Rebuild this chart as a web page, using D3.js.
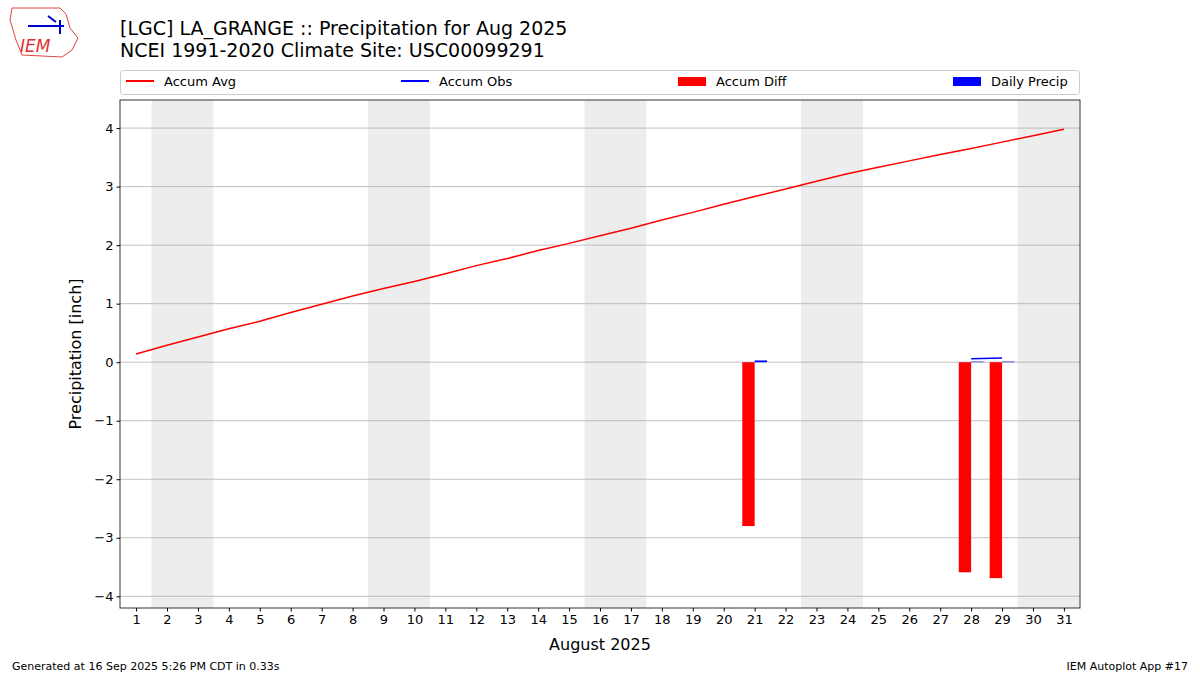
<!DOCTYPE html><html><head><meta charset="utf-8"><script src="https://cdn.jsdelivr.net/npm/d3@7"></script>
<style>body{margin:0;background:#fff}text{font-family:"DejaVu Sans",sans-serif}</style></head><body><svg id="c" width="1200" height="675"></svg><script>
const days=d3.range(1,32);
const accumAvg=[0.14,0.29,0.43,0.57,0.70,0.85,0.99,1.13,1.26,1.38,1.51,1.65,1.77,1.91,2.03,2.16,2.29,2.43,2.56,2.70,2.83,2.96,3.09,3.22,3.33,3.44,3.55,3.65,3.76,3.87,3.98];
const obsDays=[28,29], accumObs=[0.06,0.07];
const diffDays=[21,28,29], accumDiff=[-2.80,-3.59,-3.69];
const precipDays=[21,28,29], dailyPrecip=[0.03,0.01,0.01];
const weekendStarts=[2,9,16,23,30];
const yTicks=[-4,-3,-2,-1,0,1,2,3,4];
const svg=d3.select("#c");
const L=120,R=1080,T=100,B=608;
const x=d3.scaleLinear().domain([0.48,31.52]).range([L,R]);
const y=d3.scaleLinear().domain([-4.2,4.48]).range([B,T]);
const g=svg.append("g");
g.selectAll(".we").data(weekendStarts).join("rect").attr("x",d=>x(d-0.5)).attr("width",d=>x(Math.min(d+1.5,31.52))-x(d-0.5)).attr("y",T).attr("height",B-T).attr("fill","#ededed");
g.selectAll(".gl").data(yTicks).join("line").attr("x1",L).attr("x2",R).attr("y1",d=>y(d)).attr("y2",d=>y(d)).attr("stroke","#b0b0b0").attr("stroke-width",0.8);
g.selectAll(".db").data(diffDays).join("rect").attr("x",d=>x(d-0.4)).attr("width",d=>x(d)-x(d-0.4)).attr("y",y(0)).attr("height",(d,i)=>y(accumDiff[i])-y(0)).attr("fill","#ff0000");
g.selectAll(".pb").data(precipDays).join("rect").attr("x",d=>x(d)).attr("width",d=>x(d+0.4)-x(d)).attr("y",(d,i)=>y(dailyPrecip[i])).attr("height",(d,i)=>y(0)-y(dailyPrecip[i])).attr("fill","#0000ff");
g.append("path").datum(days).attr("d",d3.line().x(d=>x(d)).y((d,i)=>y(accumAvg[i]))).attr("fill","none").attr("stroke","red").attr("stroke-width",1.5);
g.append("path").datum(obsDays).attr("d",d3.line().x(d=>x(d)).y((d,i)=>y(accumObs[i]))).attr("fill","none").attr("stroke","blue").attr("stroke-width",1.5);
svg.append("rect").attr("x",L).attr("y",T).attr("width",R-L).attr("height",B-T).attr("fill","none").attr("stroke","#000").attr("stroke-width",0.8);
const xa=svg.append("g").attr("transform",`translate(0,${B})`).call(d3.axisBottom(x).tickValues(days).tickSize(3.5).tickSizeOuter(0));
const ya=svg.append("g").attr("transform",`translate(${L},0)`).call(d3.axisLeft(y).tickValues(yTicks).tickSize(3.5).tickSizeOuter(0).tickFormat(d=>d<0?"\u2212"+(-d):d));
[xa,ya].forEach(a=>{a.select(".domain").remove();a.selectAll("text").attr("font-size",13).attr("fill","#000").attr("font-family","DejaVu Sans");});
svg.append("text").attr("x",600).attr("y",650).attr("text-anchor","middle").attr("font-size",16).text("August 2025");
svg.append("text").attr("transform",`translate(81,354) rotate(-90)`).attr("text-anchor","middle").attr("font-size",16).text("Precipitation [inch]");
svg.append("text").attr("x",120).attr("y",35).attr("font-size",19).text("[LGC] LA_GRANGE :: Precipitation for Aug 2025");
svg.append("text").attr("x",120).attr("y",57).attr("font-size",19).text("NCEI 1991-2020 Climate Site: USC00099291");
svg.append("rect").attr("x",120.5).attr("y",70.5).attr("width",959).attr("height",24).attr("rx",3).attr("fill","#fff").attr("stroke","#ccc");
const leg=[["Accum Avg","red","line",126],["Accum Obs","blue","line",401],["Accum Diff","red","rect",678],["Daily Precip","blue","rect",953]];
leg.forEach(([t,c,k,lx])=>{if(k=="line")svg.append("line").attr("x1",lx).attr("x2",lx+28).attr("y1",81).attr("y2",81).attr("stroke",c).attr("stroke-width",2);else svg.append("rect").attr("x",lx).attr("y",77).attr("width",28).attr("height",9).attr("fill",c);svg.append("text").attr("x",lx+38).attr("y",86).attr("font-size",13).text(t);});
svg.append("text").attr("x",12).attr("y",670).attr("font-size",11).text("Generated at 16 Sep 2025 5:26 PM CDT in 0.33s");
svg.append("text").attr("x",1188).attr("y",670).attr("text-anchor","end").attr("font-size",11).text("IEM Autoplot App #17");
const lg=svg.append("g");
lg.append("path").attr("d","M12,8 L60,8 L66,14 L70,28 L78,38 L72,50 L62,57 L22,55 L16,40 L10,20 Z").attr("fill","#fff").attr("stroke","#d44").attr("stroke-width",1);
lg.append("text").attr("x",20).attr("y",52).attr("font-size",17).attr("font-style","italic").attr("font-family","DejaVu Serif").attr("fill","#d33").text("IEM");
lg.append("path").attr("d","M28,26 L64,26 M48,16 L56,22 M60,20 L60,34").attr("stroke","#00c").attr("stroke-width",2).attr("fill","none");
</script></body></html>
